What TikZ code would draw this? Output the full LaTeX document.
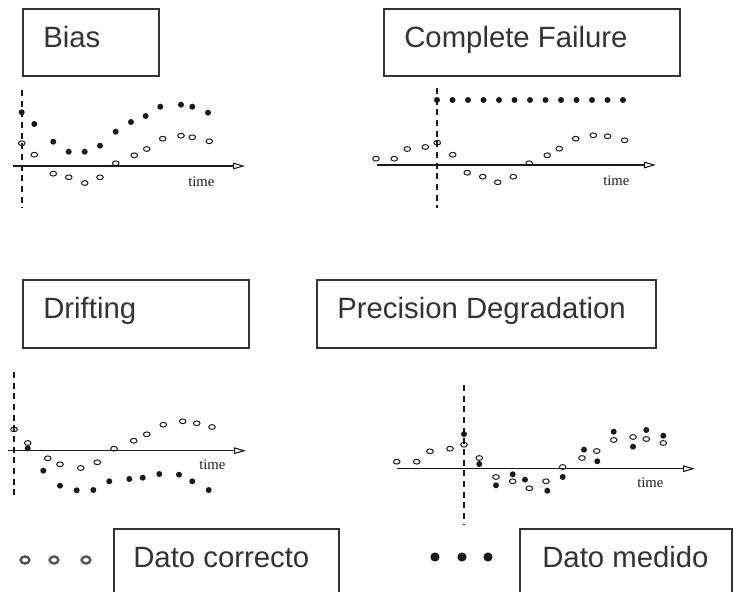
\documentclass[tikz,border=0pt]{standalone}
\usepackage{fontspec}
\setmainfont{Liberation Sans}
\newfontfamily\timefont{Liberation Serif}
\usetikzlibrary{arrows.meta}
\definecolor{ink}{HTML}{333333}
\definecolor{plotink}{HTML}{1A1A1A}
\definecolor{legendgray}{HTML}{555555}

\tikzset{
  labelbox/.style={draw=ink,line width=0.9pt},
  boxtext/.style={anchor=base west,inner sep=0pt,text=ink,font=\fontsize{22}{26}\selectfont},
  timeaxis/.style={plotink,line width=0.8pt,-{Triangle[open,length=9pt,width=5pt]}},
  eventline/.style={plotink,line width=0.8pt,dash pattern=on 4.5pt off 3.5pt},
  okdot/.style={plotink,line width=0.75pt},
  baddot/.style={fill=plotink},
  timelabel/.style={anchor=west,inner sep=0pt,text=plotink,font=\timefont\fontsize{11}{13}\selectfont}
}

\begin{document}
\begin{tikzpicture}[x=0.75pt,y=-0.75pt]
  \useasboundingbox (0,0) rectangle (733,592);

  % title boxes
  \draw[labelbox] (23,9) rectangle (159,76);
  \node[boxtext] (bias) at (43,48) {Bias};
  \draw[labelbox] (384,9) rectangle (680,76);
  \node[boxtext] (failure) at (404,48) {Complete Failure};
  \draw[labelbox] (23,280) rectangle (249,348);
  \node[boxtext] (drift) at (43,318) {Drifting};
  \draw[labelbox] (317,280) rectangle (656,348);
  \node[boxtext] (precision) at (337,318) {Precision Degradation};

  % bias
  \draw[eventline] (22,90) -- (22,208);
  \draw[timeaxis] (13,166) -- (245,166);
  \node[timelabel] (biastime) at (188,182) {time};
  \foreach \px/\py in {21.7/112.3,34.3/124,53.3/141.7,68.7/151.7,84.7/151.7,100/145.7,115.7/131.7,
                       131/122,145.7/116,160.3/106.7,181/104.7,192.3/106.7,208/112.7}
    \fill[baddot] (\px,\py) circle (3);
  \foreach \px/\py in {21.7/143.3,34.3/154.7,53.3/173.7,68.7/177.3,84.7/183,100/177.3,115.7/163.3,
                       134.3/155.3,146.7/149,162.7/138.7,181/135.7,192.3/137.3,209.3/141.3}
    \draw[okdot] (\px,\py) ellipse [x radius=3.3, y radius=2.4];

  % complete failure
  \draw[eventline] (437,88) -- (437,208);
  \draw[timeaxis] (377,165) -- (656,165);
  \node[timelabel] (failtime) at (603,181) {time};
  \foreach \k in {0,...,12}
    \fill[baddot] (437+15.5*\k,100) circle (3);
  \foreach \px/\py in {376/158.7,394.3/158.7,407.3/149,425.3/147,437.3/142.7,452.7/154.7,467.3/172.7,
                       482.7/176.7,497.7/182.3,513.3/176.7,529.3/163.3,547.3/155.3,559.3/148.7,
                       575.7/138.7,593.3/135.3,607.6/136.3,624.6/140.3}
    \draw[okdot] (\px,\py) ellipse [x radius=3.3, y radius=2.4];

  % drifting
  \draw[eventline] (14,372) -- (14,500);
  \draw[timeaxis] (8,450.7) -- (246,450.7);
  \node[timelabel] (drifttime) at (199,465) {time};
  \foreach \px/\py in {14/429.3,27.7/443,47.7/458.3,60/464.3,80.7/468,97.3/462.3,114/448.7,
                       133.7/440.7,146.7/434.3,163.3/424.7,182.7/421.3,196.7/423.3,212/427}
    \draw[okdot] (\px,\py) ellipse [x radius=3.3, y radius=2.4];
  \foreach \px/\py in {27.7/448.3,43.3/470.7,60/485.7,76.7/490.3,93.3/490,109.3/481.3,129.3/479,
                       142.7/477.7,159.3/474,179/474.7,192.3/481.3,208.7/490}
    \fill[baddot] (\px,\py) circle (3);

  % precision degradation
  \draw[eventline] (464,385) -- (464,525);
  \draw[timeaxis] (397,468.7) -- (695,468.7);
  \node[timelabel] (prectime) at (637,483) {time};
  \foreach \px/\py in {396.7/461.7,416.7/461.7,430/451.3,450/448.7,464/444.7,479.3/458,496/477,
                       512.7/481.3,529.3/488.3,546/481.3,562.7/467,582/458,596.7/451,613.7/440,
                       633/437,646.3/439,663.3/443}
    \draw[okdot] (\px,\py) ellipse [x radius=3.3, y radius=2.4];
  \foreach \px/\py in {464/434,479.3/464,496/485.3,512.7/474.3,525/479.7,547.3/490.7,562.7/477,
                       584/449.7,597.3/461.3,613.7/431.7,633/446.7,646.3/430,663.3/435.7}
    \fill[baddot] (\px,\py) circle (3);

  % legend
  \foreach \px in {25,54,86}
    \draw[legendgray,line width=1.8pt] (\px,560) ellipse [x radius=4.4, y radius=3.5];
  \draw[labelbox] (114,592) -- (114,529) -- (339,529) -- (339,592);
  \node[boxtext] (correct) at (133,567) {Dato correcto};
  \foreach \px in {435,462,488}
    \fill[plotink] (\px,557) circle (4.6);
  \draw[labelbox] (520,592) -- (520,529) -- (732,529) -- (732,592);
  \node[boxtext] (measured) at (542,567) {Dato medido};
\end{tikzpicture}
\end{document}
